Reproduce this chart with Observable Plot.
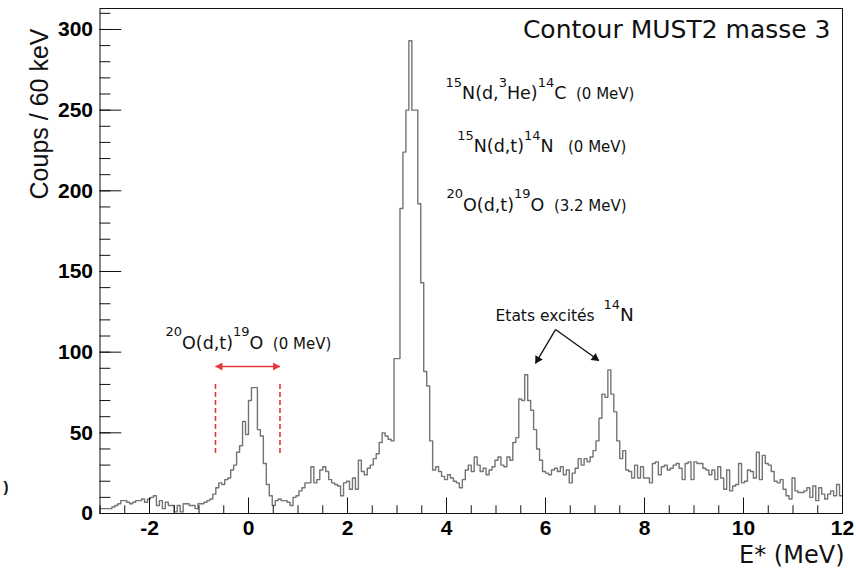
<!DOCTYPE html>
<html><head><meta charset="utf-8">
<script src="https://cdn.jsdelivr.net/npm/d3@7"></script>
<script src="https://cdn.jsdelivr.net/npm/@observablehq/plot@0.6"></script>
<style>
html,body{margin:0;padding:0;background:#fff;}
#chart{width:856px;height:568px;overflow:hidden;}
svg text{white-space:pre;}
</style></head><body><div id="chart"></div>
<script>
// ---- data (60 keV bins from -3 MeV) ----
const binStart = -3;
const binWidth = 0.06;
const counts = [
  3,3,3,3,4,5,6,8,8,7,
  6,7,8,8,9,7,9,10,11,5,
  8,3,7,5,5,1,5,1,6,6,
  5,5,3,6,6,7,8,9,12,16,
  19,18,21,22,27,30,38,42,57,49,
  70,78,78,52,48,31,18,11,5,8,
  9,8,8,7,5,10,11,14,16,19,
  19,29,19,21,27,29,26,21,19,18,
  17,11,19,20,15,22,15,33,26,24,
  28,30,34,37,44,50,48,46,45,96,
  96,189,224,250,293,250,250,192,143,88,
  79,45,27,29,26,23,21,24,22,20,
  19,16,21,27,30,26,35,30,26,28,
  24,27,29,33,35,30,29,35,33,44,
  47,71,70,86,70,64,52,40,33,26,
  25,24,27,28,26,29,24,27,19,25,
  28,34,30,34,32,35,39,45,59,74,
  72,89,74,63,45,34,39,27,26,22,
  30,22,29,22,22,19,31,32,24,29,
  30,27,28,30,31,28,21,31,32,21,
  32,31,31,28,27,24,27,21,29,22,
  15,27,14,17,18,31,19,20,27,26,
  22,38,21,36,31,30,26,20,19,21,
  15,11,9,22,14,13,13,14,16,10,
  17,8,16,12,9,12,14,11,18,11
];
const xTicksMajor = [-2,0,2,4,6,8,10,12];
const xTicksMinor = [-3,-2.5,-2,-1.5,-1,-0.5,0,0.5,1,1.5,2,2.5,3,3.5,4,4.5,5,5.5,6,6.5,7,7.5,8,8.5,9,9.5,10,10.5,11,11.5,12];
const yTicksMajor = [0,50,100,150,200,250,300];
const yTicksMinor = [0,10,20,30,40,50,60,70,80,90,100,110,120,130,140,150,160,170,180,190,200,210,220,230,240,250,260,270,280,290,300,310];

const titleText = "Contour MUST2 masse 3";
const yLabel = "Coups / 60 keV";
const xLabel = "E* (MeV)";

// reaction labels (^{..} superscript, ~{..} small text)
const reactions = [
  {x: 3.98, y: 256.6, t: "^{15}N(d,^{3}He)^{14}C~{  (0 MeV)}"},
  {x: 4.216, y: 223.9, t: "^{15}N(d,t)^{14}N~{   (0 MeV)}"},
  {x: 4.0, y: 187.8, t: "^{20}O(d,t)^{19}O~{  (3.2 MeV)}"},
  {x: -1.677, y: 102.1, t: "^{20}O(d,t)^{19}O~{  (0 MeV)}"}
];
const excitedLabel = [{x: 4.99, y: 119.2, t: "Etats excités"}];
const excitedNucleus = [{x: 7.172, y: 119.2, t: "^{14}N"}];

// red window of the 19O ground state
const windowEdges = [-0.667, 0.636];
const windowY = [37.2, 81.2];
const windowArrowY = 91.1;
const windowHeads = [{x: -0.575, y: 91.1, rot: -90}, {x: 0.544, y: 91.1, rot: 90}];
// black arrows to the 14N excited states
const arrowFrom = {x: 6.202, y: 114.0};
const arrowTo = [{x: 5.798, y: 93.0}, {x: 7.077, y: 94.8}];
const arrowHeads = [{x: 5.844, y: 95.4, rot: -149.5}, {x: 7.003, y: 96.4, rot: 125.8}];

// ---- build ----
const histPts = counts.map((c, i) => ({x: binStart + i * binWidth, y: c}));
histPts.push({x: binStart + counts.length * binWidth, y: counts[counts.length - 1]});

const redSegs = [{x1: windowEdges[0], x2: windowEdges[1], y1: windowArrowY, y2: windowArrowY}];
const redDash = windowEdges.map(e => ({x: e, y1: windowY[0], y2: windowY[1]}));
const blackSegs = arrowTo.map(a => ({x1: arrowFrom.x, y1: arrowFrom.y, x2: a.x, y2: a.y}));

const RED = "#e8343c";
const plot = Plot.plot({
  width: 856,
  height: 568,
  marginLeft: 99.5,
  marginRight: 14,
  marginTop: 8,
  marginBottom: 55,
  style: {fontFamily: "Liberation Sans, Arial, sans-serif", background: "#fff", overflow: "visible"},
  x: {domain: [-3, 12]},
  y: {domain: [0, 313]},
  marks: [
    Plot.line(histPts, {x: "x", y: "y", curve: "step-after", stroke: "#747474", strokeWidth: 1.4}),
    // ticks (ROOT style, inward)
    Plot.ruleX(xTicksMinor, {x: d => d, y1: 0, y2: 4.8, stroke: "#111", strokeWidth: 1}),
    Plot.ruleX(xTicksMajor, {x: d => d, y1: 0, y2: 9.6, stroke: "#111", strokeWidth: 1}),
    Plot.ruleY(yTicksMinor, {y: d => d, x1: -3, x2: -2.78, stroke: "#111", strokeWidth: 1}),
    Plot.ruleY(yTicksMajor, {y: d => d, x1: -3, x2: -2.56, stroke: "#111", strokeWidth: 1}),
    Plot.frame({stroke: "#111", strokeWidth: 1}),
    Plot.axisX({ticks: xTicksMajor, tickSize: 0, tickPadding: 7, tickFormat: d => String(d), fontSize: 21, fontWeight: "bold", label: null, fill: "#000"}),
    Plot.axisY({ticks: yTicksMajor, tickSize: 0, tickPadding: 7, tickFormat: d => String(d), fontSize: 21, fontWeight: "bold", label: null, fill: "#000"}),
    // titles
    Plot.text([titleText], {frameAnchor: "top-right", text: d => d, dx: -12, dy: 29, lineAnchor: "bottom", textAnchor: "end", fontSize: 25, fontFamily: "DejaVu Sans", fill: "#111"}),
    Plot.text([yLabel], {frameAnchor: "top-left", text: d => d, dx: -70, dy: 20, rotate: -90, textAnchor: "end", fontSize: 25, fill: "#111"}),
    Plot.text([xLabel], {frameAnchor: "bottom-right", text: d => d, dx: 2, dy: 49, lineAnchor: "bottom", textAnchor: "end", fontSize: 24, fontFamily: "DejaVu Sans", fill: "#111"}),
    Plot.text([")"], {frameAnchor: "bottom-left", text: d => d, dx: -94, dy: -22, textAnchor: "middle", fontSize: 15, fontWeight: "bold", fill: "#111"}),
    // red window
    Plot.ruleX(redDash, {x: "x", y1: "y1", y2: "y2", stroke: RED, strokeWidth: 1.6, strokeDasharray: "5,3"}),
    Plot.link(redSegs, {x1: "x1", y1: "y1", x2: "x2", y2: "y2", stroke: RED, strokeWidth: 1.6}),
    Plot.dot(windowHeads, {x: "x", y: "y", rotate: "rot", symbol: "triangle", r: 3, fill: RED, stroke: null}),
    // black arrows
    Plot.link(blackSegs, {x1: "x1", y1: "y1", x2: "x2", y2: "y2", stroke: "#111", strokeWidth: 1.3}),
    Plot.dot(arrowHeads, {x: "x", y: "y", rotate: "rot", symbol: "triangle", r: 3.2, fill: "#111", stroke: null}),
    // annotations
    Plot.text(reactions, {x: "x", y: "y", text: "t", textAnchor: "start", lineAnchor: "bottom", fontSize: 17.5, fontFamily: "DejaVu Sans", fill: "#111"}),
    Plot.text(excitedLabel, {x: "x", y: "y", text: "t", textAnchor: "start", lineAnchor: "bottom", fontSize: 15.5, fontFamily: "DejaVu Sans", fill: "#111"}),
    Plot.text(excitedNucleus, {x: "x", y: "y", text: "t", textAnchor: "start", lineAnchor: "bottom", fontSize: 18.5, fontFamily: "DejaVu Sans", fill: "#111"})
  ]
});

// turn ^{..} / ~{..} markup into tspans
d3.select(plot).selectAll("text").each(function () {
  const s = this.textContent;
  if (!/[\^~]\{/.test(s)) return;
  const sel = d3.select(this);
  this.textContent = "";
  const SUP = 13, RAISE = 12.5, SMALL = 15;
  const re = /(\^|~)\{([^}]*)\}|([^\^~]+)/g;
  let m, raised = false;
  while ((m = re.exec(s))) {
    if (m[1] === "^") {
      sel.append("tspan").attr("font-size", SUP).attr("dy", raised ? 0 : -RAISE).text(m[2]);
      raised = true;
    } else {
      const t = sel.append("tspan").attr("dy", raised ? RAISE : 0).text(m[1] === "~" ? m[2] : m[3]);
      if (m[1] === "~") t.attr("font-size", SMALL);
      raised = false;
    }
  }
});

document.getElementById("chart").appendChild(plot);
</script>
</body></html>
